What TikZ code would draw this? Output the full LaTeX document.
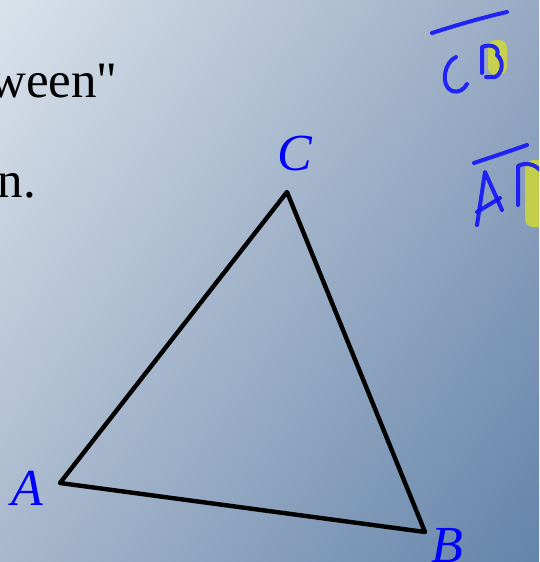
\documentclass[tikz,border=0pt]{standalone}
\usepackage{fontspec}
\setmainfont{Liberation Serif}
\newfontfamily\rawserif{Liberation Serif}[Ligatures=TeXOff]
\usetikzlibrary{positioning,shadings}

\definecolor{bgUL}{RGB}{218,226,235}
\definecolor{bgUR}{RGB}{152,170,195}
\definecolor{bgLL}{RGB}{168,184,205}
\definecolor{bgLR}{RGB}{100,132,170}
\definecolor{ink}{RGB}{20,20,250}
\definecolor{marker}{RGB}{215,222,40}

\begin{document}
\begin{tikzpicture}[
  x=1pt, y=-1pt, line join=round,
  big/.style={inner sep=0pt, font=\fontsize{51}{60}\selectfont\rawserif},
  lbl/.style={inner sep=0pt, text=blue, font=\fontsize{52}{60}\selectfont\itshape},
  hand/.style={draw=ink, line width=4pt, line cap=round, opacity=0.9},
  hilite/.style={fill=marker, fill opacity=0.75, rounded corners=8pt},
]
  \shade[upper left=bgUL, upper right=bgUR, lower left=bgLL, lower right=bgLR]
    (0,0) rectangle (539,562);
  \useasboundingbox (0,0) rectangle (539,562);
  \begin{scope}
  \clip (0,0) rectangle (539,562);

  % clipped slide text
  \node[big, anchor=base east] (t1) at (118,97) {ween"};
  \node[big, anchor=base east] (t2) at (36,197) {n.};

  % triangle
  \coordinate (A) at (60,483);
  \coordinate (B) at (425,532);
  \coordinate (C) at (287,192);
  \draw[line width=4.4pt] (A) -- (B) -- (C) -- cycle;

  \node[lbl, anchor=base] (la) at (27,505) {A};
  \node[lbl, anchor=base] (lb) at (447,562) {B};
  \node[lbl, anchor=base] (lc) at (295,170) {C};

  % ink notes
  \fill[hilite] (488,40) rectangle (507,75);
  \fill[hilite] (525,160) rectangle (550,227);
  \draw[hand] (432,33) .. controls (460,24) and (485,17) .. (507,12);
  \draw[hand] (456,57) .. controls (444,62) and (440,86) .. (452,91)
    .. controls (458,93) and (464,90) .. (467,84);
  \draw[hand] (482,73) -- (482,47) .. controls (492,43) and (500,48) .. (497,55)
    .. controls (505,62) and (502,74) .. (495,77) -- (486,77);
  \draw[hand] (474,163) .. controls (492,157) and (510,151) .. (527,145);
  \draw[hand] (477,225) -- (485,172) -- (502,210);
  \draw[hand] (477,212) -- (500,198);
  \draw[hand] (518,205) -- (518,166) .. controls (526,162) and (534,164) .. (540,170);
  \end{scope}
\end{tikzpicture}
\end{document}
